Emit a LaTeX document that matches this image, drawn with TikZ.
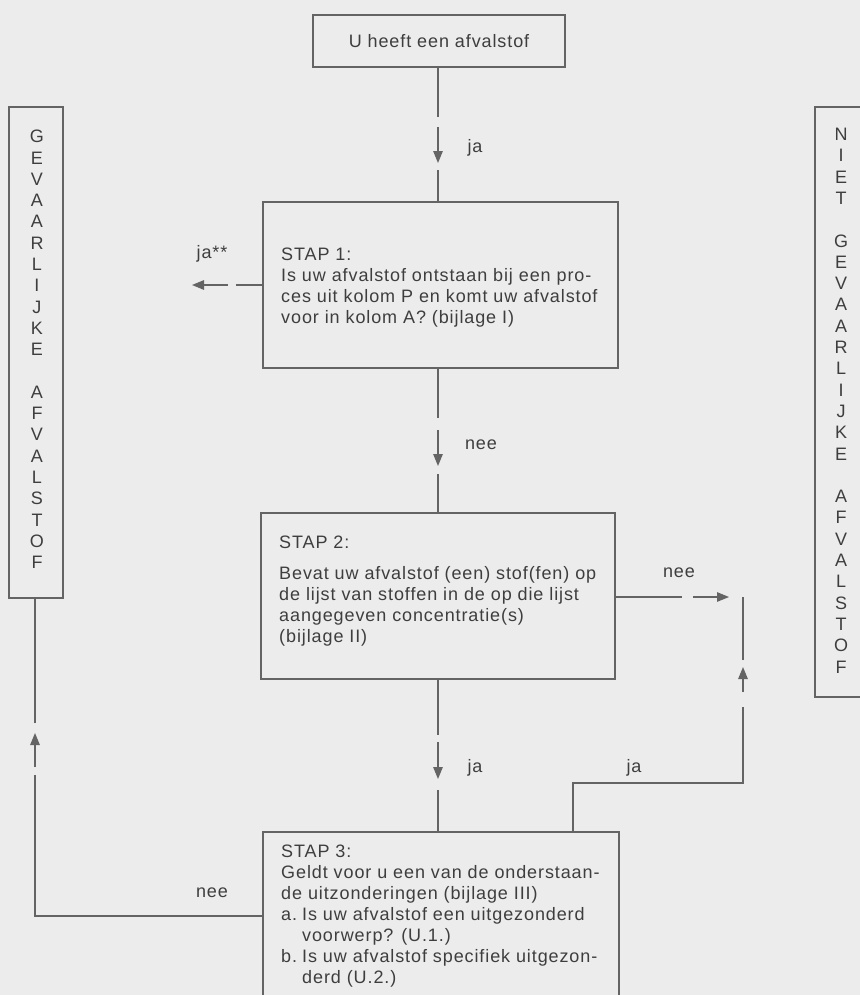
\documentclass[tikz,border=0pt]{standalone}
\usepackage{fontspec}
\setmainfont{Liberation Sans}[LetterSpace=5]
\usetikzlibrary{arrows.meta}
\definecolor{bg}{RGB}{236,236,236}
\definecolor{ink}{RGB}{62,62,62}
\definecolor{lncol}{RGB}{100,100,100}
\begin{document}
\begin{tikzpicture}[x=1bp,y=-1bp,
  box/.style={draw=lncol, line width=1.4bp, inner sep=0pt, outer sep=0pt, anchor=north west},
  txt/.style={text=ink, inner sep=0pt, align=left, anchor=north west, font=\fontsize{18bp}{21bp}\selectfont},
  lbl/.style={text=ink, inner sep=0pt, anchor=base, font=\fontsize{18bp}{21bp}\selectfont},
  vert/.style={text=ink, inner sep=0pt, align=center, anchor=north, font=\fontsize{18bp}{21.3bp}\selectfont},
  conn/.style={draw=lncol, line width=1.3bp},
  arr/.style={conn, -{Triangle[length=12bp,width=9.5bp]}}]
\fill[bg] (0,0) rectangle (860,995);
\useasboundingbox (0,0) rectangle (860,995);
\clip (0,0) rectangle (860,995);

% boxes
\node[box, minimum width=252bp, minimum height=52bp] (top) at (313,15) {};
\node[lbl] (toptxt) at (439,47) {U heeft een afvalstof};
\node[box, minimum width=355bp, minimum height=166bp] (s1) at (263,202) {};
\node[txt] (s1txt) at (281,248) {STAP 1:\\Is uw afvalstof ontstaan bij een pro-\\ces uit kolom P en komt uw afvalstof\\voor in kolom A? (bijlage I)};
\node[box, minimum width=354bp, minimum height=166bp] (s2) at (261,513) {};
\node[txt] (s2txt) at (279,536) {STAP 2:\\[10bp]Bevat uw afvalstof (een) stof(fen) op\\de lijst van stoffen in de op die lijst\\aangegeven concentratie(s)\\(bijlage II)};
\node[box, minimum width=356bp, minimum height=200bp] (s3) at (263,832) {};
\node[txt] (s3txt) at (281,845) {STAP 3:\\Geldt voor u een van de onderstaan-\\de uitzonderingen (bijlage III)\\\makebox[21bp][l]{a.}Is uw afvalstof een uitgezonderd\\\hspace*{21bp}voorwerp? (U.1.)\\\makebox[21bp][l]{b.}Is uw afvalstof specifiek uitgezon-\\\hspace*{21bp}derd (U.2.)};
\node[box, minimum width=54bp, minimum height=491bp] (gev) at (9,107) {};
\node[vert] (gevtxt) at (37,130) {G\\E\\V\\A\\A\\R\\L\\I\\J\\K\\E\\[21.3bp]A\\F\\V\\A\\L\\S\\T\\O\\F};
\node[box, minimum width=70bp, minimum height=590bp] (niet) at (815,107) {};
\node[vert] (niettxt) at (841,128) {N\\I\\E\\T\\[21.3bp]G\\E\\V\\A\\A\\R\\L\\I\\J\\K\\E\\[21.3bp]A\\F\\V\\A\\L\\S\\T\\O\\F};

% coordinates for broken connectors
\coordinate (a1) at (438,117);
\coordinate (a1s) at (438,127);
\coordinate (a1e) at (438,163);
\coordinate (a1r) at (438,170);
\coordinate (b1) at (236,285);
\coordinate (b1s) at (228,285);
\coordinate (b1e) at (192,285);
\coordinate (c1) at (438,418);
\coordinate (c1s) at (438,430);
\coordinate (c1e) at (438,466);
\coordinate (c1r) at (438,474);
\coordinate (d1) at (682,597);
\coordinate (d1s) at (693,597);
\coordinate (d1e) at (729,597);
\coordinate (e1) at (438,735);
\coordinate (e1s) at (438,742);
\coordinate (e1e) at (438,779);
\coordinate (e1r) at (438,790);
\coordinate (f0) at (573,783);
\coordinate (f1) at (743,783);
\coordinate (f2) at (743,707);
\coordinate (f2s) at (743,692);
\coordinate (f2e) at (743,667);
\coordinate (f3) at (743,660);
\coordinate (f4) at (743,597);
\coordinate (g1) at (35,916);
\coordinate (g2) at (35,775);
\coordinate (g2s) at (35,767);
\coordinate (g2e) at (35,733);
\coordinate (g3) at (35,723);

% top -> stap 1
\draw[conn] (top.south -| a1) -- (a1);
\draw[arr] (a1s) -- (a1e);
\draw[conn] (a1r) -- (s1.north -| a1r);
\node[lbl] (ja1) at (475,152) {ja};
% stap 1 -> gevaarlijk
\draw[conn] (s1.west |- b1) -- (b1);
\draw[arr] (b1s) -- (b1e);
\node[lbl] (ja2) at (212,258) {ja**};
% stap 1 -> stap 2
\draw[conn] (s1.south -| c1) -- (c1);
\draw[arr] (c1s) -- (c1e);
\draw[conn] (c1r) -- (s2.north -| c1r);
\node[lbl] (nee1) at (481,449) {nee};
% stap 2 -> niet gevaarlijk
\draw[conn] (s2.east |- d1) -- (d1);
\draw[arr] (d1s) -- (d1e);
\node[lbl] (nee2) at (679,577) {nee};
% stap 2 -> stap 3
\draw[conn] (s2.south -| e1) -- (e1);
\draw[arr] (e1s) -- (e1e);
\draw[conn] (e1r) -- (s3.north -| e1r);
\node[lbl] (ja3) at (475,772) {ja};
% stap 3 -> niet gevaarlijk
\draw[conn] (s3.north -| f0) -- (f0) -- (f1) -- (f2);
\draw[arr] (f2s) -- (f2e);
\draw[conn] (f3) -- (f4);
\node[lbl] (ja4) at (634,772) {ja};
% stap 3 -> gevaarlijk
\draw[conn] (s3.west |- g1) -- (g1) -- (g2);
\draw[arr] (g2s) -- (g2e);
\draw[conn] (g3) -- (gev.south -| g3);
\node[lbl] (nee3) at (212,897) {nee};
\end{tikzpicture}
\end{document}
